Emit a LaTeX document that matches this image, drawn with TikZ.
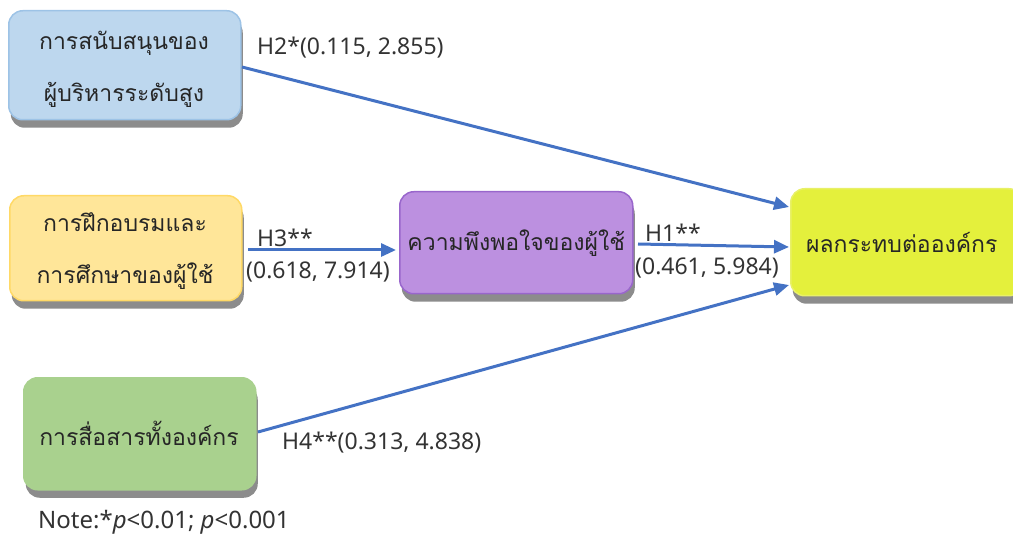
\documentclass[tikz,border=0pt]{standalone}
\usepackage{fontspec}
\setmainfont{Noto Sans}
\newfontfamily\thaifont[Script=Thai]{Loma}
\usetikzlibrary{shadows,arrows.meta}
\definecolor{arrowblue}{HTML}{4472C4}
\definecolor{bluefill}{HTML}{BDD7EE}
\definecolor{blueline}{HTML}{9DC3E6}
\definecolor{yellowfill}{HTML}{FFE699}
\definecolor{yellowline}{HTML}{FFD966}
\definecolor{purplefill}{HTML}{BC90E0}
\definecolor{purpleline}{HTML}{9966CC}
\definecolor{limefill}{HTML}{E4F03C}
\definecolor{limeline}{HTML}{E8F068}
\definecolor{greenfill}{HTML}{A9D18E}
\definecolor{greenline}{HTML}{A9D18E}
\definecolor{shadowgray}{HTML}{8C8C8C}
\tikzset{
  box/.style={rounded corners=14pt, line width=1.5pt, anchor=north west, inner sep=0pt,
    align=center, font=\thaifont\fontsize{23}{52}\selectfont, text=black!85,
    drop shadow={shadow xshift=2pt, shadow yshift=-8pt, fill=shadowgray, opacity=1}},
  boxtext/.style={align=center, inner sep=0pt, font=\thaifont\fontsize{23}{52}\selectfont, text=black!85},
  conn/.style={draw=arrowblue, line width=3pt, -{Triangle[length=15pt,width=13pt]}},
  lbl/.style={font=\fontsize{23}{27}\selectfont, text=black!80, inner sep=0pt}
}
\begin{document}
\begin{tikzpicture}[x=1pt,y=-1pt]
\useasboundingbox (0,0) rectangle (1013,540);
\begin{scope}
\clip (0,0) rectangle (1013,540);
\node[box, fill=bluefill, draw=blueline, minimum width=232pt, minimum height=109pt] (top) at (8,10) {};
\node[boxtext] (toptext) at (124,69) {การสนับสนุนของ\\ผู้บริหารระดับสูง};
\node[box, fill=yellowfill, draw=yellowline, minimum width=232pt, minimum height=105pt] (train) at (9,195) {};
\node[boxtext] (traintext) at (125,251) {การฝึกอบรมและ\\การศึกษาของผู้ใช้};
\node[box, fill=purplefill, draw=purpleline, minimum width=233pt, minimum height=102pt] (sat) at (399,191) {ความพึงพอใจของผู้ใช้};
\node[box, fill=limefill, draw=limeline, minimum width=232pt, minimum height=107pt] (impact) at (790,188) {ผลกระทบต่อองค์กร\hspace*{10pt}};
\node[box, fill=greenfill, draw=greenline, minimum width=232pt, minimum height=112pt] (comm) at (23,377) {};
\node[boxtext] (commtext) at (139,433) {การสื่อสารทั้งองค์กร};
\end{scope}
\coordinate (h2s) at (242,67);
\coordinate (h2e) at (789,207);
\coordinate (h3s) at (248,250);
\coordinate (h3e) at (396,250);
\coordinate (h1s) at (638,244);
\coordinate (h1e) at (789,247);
\coordinate (h4s) at (258,432);
\coordinate (h4e) at (789,285);
\draw[conn] (h2s) -- (h2e);
\draw[conn] (h3s) -- (h3e);
\draw[conn] (h1s) -- (h1e);
\draw[conn] (h4s) -- (h4e);
\node[lbl, anchor=west] (l2) at (257,48) {H2*(0.115, 2.855)};
\node[lbl, anchor=west] (l3a) at (257,238) {H3**};
\node[lbl, anchor=west] (l3b) at (246,272) {(0.618, 7.914)};
\node[lbl, anchor=west] (l1a) at (645,233) {H1**};
\node[lbl, anchor=west] (l1b) at (635,268) {(0.461, 5.984)};
\node[lbl, anchor=west] (l4) at (282,443) {H4**(0.313, 4.838)};
\node[lbl, anchor=west, font=\fontsize{24}{28}\selectfont] (note) at (38,522) {Note:*\textit{p}<0.01; \textit{p}<0.001};
\end{tikzpicture}
\end{document}
